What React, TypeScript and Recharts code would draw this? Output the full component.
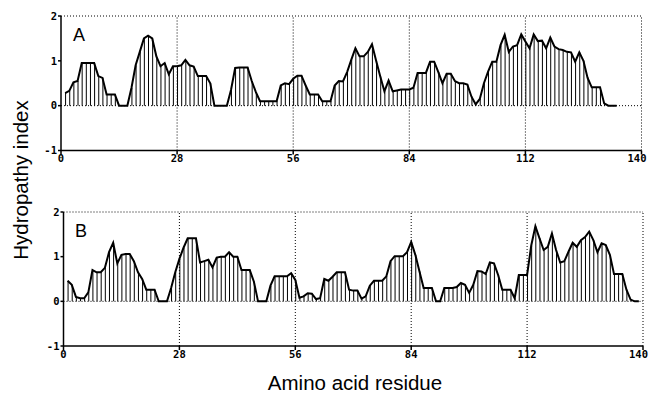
import React from "react";
import { ComposedChart, Bar, Line, XAxis, YAxis, ReferenceLine } from "recharts";

const xTicks = [0, 28, 56, 84, 112, 140];
const yTicks = [-1, 0, 1, 2];
const gridX = [28, 56, 84, 112, 140];
const gridY = [0, 2];

const hydroA = [
  0.28, 0.33, 0.52, 0.55, 0.95, 0.95, 0.95, 0.95, 0.66, 0.62,
  0.25, 0.25, 0.25, 0, 0, 0, 0.4, 0.9, 1.2, 1.5,
  1.56, 1.5, 1.1, 0.88, 0.95, 0.7, 0.88, 0.88, 0.9, 1.02,
  0.9, 0.87, 0.66, 0.66, 0.66, 0.5, 0, 0, 0, 0,
  0.35, 0.84, 0.85, 0.85, 0.85, 0.55, 0.3, 0.1, 0.1, 0.1,
  0.1, 0.1, 0.45, 0.5, 0.48, 0.6, 0.67, 0.67, 0.45, 0.25,
  0.25, 0.25, 0.1, 0.1, 0.1, 0.45, 0.55, 0.54, 0.75, 1.02,
  1.28, 1.1, 1.1, 1.2, 1.37, 1.0, 0.65, 0.32, 0.56, 0.32,
  0.34, 0.36, 0.36, 0.36, 0.4, 0.73, 0.73, 0.73, 0.98, 0.98,
  0.75, 0.5, 0.71, 0.71, 0.55, 0.5, 0.5, 0.47, 0.2, 0.03,
  0.15, 0.5, 0.76, 0.98, 0.98, 1.35, 1.58, 1.2, 1.32, 1.35,
  1.59, 1.43, 1.28, 1.59, 1.44, 1.45, 1.28, 1.52, 1.32, 1.26,
  1.24, 1.2, 1.19, 0.98, 1.19, 1.0, 0.62, 0.41, 0.41, 0.41,
  0.05, 0, 0, 0,
];

const hydroB = [
  0.46, 0.37, 0.1, 0.07, 0.07, 0.2, 0.7, 0.65, 0.65, 0.75,
  1.1, 1.31, 0.85, 1.04, 1.06, 1.06, 0.9, 0.65, 0.5, 0.26,
  0.26, 0.26, 0, 0, 0, 0.3, 0.65, 0.95, 1.2, 1.41,
  1.41, 1.41, 0.87, 0.9, 0.93, 0.76, 0.98, 1.0, 1.0, 1.1,
  1.0, 1.0, 0.7, 0.7, 0.7, 0.44, 0, 0, 0, 0.35,
  0.56, 0.56, 0.56, 0.56, 0.63, 0.48, 0.08, 0.11, 0.18, 0.17,
  0.05, 0.07, 0.5, 0.46, 0.55, 0.65, 0.65, 0.65, 0.26, 0.24,
  0.24, 0.06, 0.11, 0.35, 0.46, 0.46, 0.46, 0.56, 0.9, 1.01,
  1.01, 1.01, 1.1, 1.33, 1.04, 0.67, 0.3, 0.3, 0.3, 0,
  0, 0.3, 0.3, 0.3, 0.32, 0.41, 0.37, 0.19, 0.37, 0.68,
  0.67, 0.61, 0.87, 0.85, 0.59, 0.26, 0.26, 0.26, 0.07, 0.59,
  0.59, 0.59, 1.25, 1.68, 1.41, 1.15, 1.22, 1.52, 1.15, 0.87,
  0.9, 1.11, 1.31, 1.22, 1.37, 1.44, 1.56, 1.37, 1.1, 1.3,
  1.26, 1.04, 0.61, 0.61, 0.61, 0.26, 0.04, 0, 0,
];

const toRows = (vals: number[]) => vals.map((h, i) => ({ residue: i + 1, h }));

const tickFont = {
  fontFamily: "'DejaVu Sans Mono', monospace",
  fontWeight: 700,
  fontSize: 10.5,
  fill: "#000",
};

const XTick = (props: any) => {
  const { x, y, payload } = props;
  const last = payload.value === 140;
  return (
    <text
      x={x}
      y={y}
      dy="0.75em"
      textAnchor={last ? "end" : "middle"}
      dx={last ? 5 : 0}
      {...tickFont}
    >
      {payload.value}
    </text>
  );
};

function Panel({ vals, top, height, margin }: { vals: number[]; top: number; height: number; margin: any }) {
  const data = toRows(vals);
  return (
    <div style={{ position: "absolute", left: 0, top }}>
      <ComposedChart width={649} height={height} data={data} margin={margin}>
        {gridX.map((x) => (
          <ReferenceLine key={"x" + x} x={x} stroke="#000" strokeWidth={1} strokeDasharray="1 2" />
        ))}
        {gridY.map((y) => (
          <ReferenceLine key={"y" + y} y={y} stroke="#000" strokeWidth={1} strokeDasharray="1 2" />
        ))}
        <XAxis
          dataKey="residue"
          type="number"
          domain={[0, 140]}
          ticks={xTicks}
          interval={0}
          allowDataOverflow
          height={20}
          tickSize={4}
          tickMargin={0}
          axisLine={{ stroke: "#000", strokeWidth: 1.5 }}
          tickLine={{ stroke: "#000", strokeWidth: 1.5 }}
          tick={<XTick />}
        />
        <YAxis
          type="number"
          domain={[-1, 2]}
          ticks={yTicks}
          interval={0}
          allowDataOverflow
          width={30}
          tickSize={3}
          tickMargin={1}
          axisLine={{ stroke: "#000", strokeWidth: 1.5 }}
          tickLine={{ stroke: "#000", strokeWidth: 1.5 }}
          tick={tickFont}
        />
        <Bar dataKey="h" fill="#000" barSize={1} isAnimationActive={false} />
        <Line dataKey="h" type="linear" stroke="#000" strokeWidth={2} dot={false} isAnimationActive={false} />
      </ComposedChart>
    </div>
  );
}

const labelStyle: React.CSSProperties = {
  position: "absolute",
  fontFamily: "'Liberation Sans', Arial, sans-serif",
  fontSize: 18,
  color: "#000",
  lineHeight: 1,
};

export default function App() {
  return (
    <div style={{ position: "absolute", left: 0, top: 0, width: 649, height: 393, background: "#fff", overflow: "hidden" }}>
      <Panel vals={hydroA} top={0} height={175} margin={{ top: 16, right: 7.5, left: 31, bottom: 4.5 }} />
      <Panel vals={hydroB} top={190} height={180} margin={{ top: 22, right: 6, left: 33.5, bottom: 4 }} />
      <div style={{ ...labelStyle, left: 73, top: 26 }}>A</div>
      <div style={{ ...labelStyle, left: 75, top: 222 }}>B</div>
      <div
        style={{
          position: "absolute",
          left: 355,
          top: 383,
          transform: "translate(-50%, -50%)",
          fontFamily: "'Liberation Sans', Arial, sans-serif",
          fontSize: 20.5,
          whiteSpace: "nowrap",
          color: "#000",
        }}
      >
        Amino acid residue
      </div>
      <div
        style={{
          position: "absolute",
          left: 21,
          top: 180,
          transform: "translate(-50%, -50%) rotate(-90deg)",
          fontFamily: "'Liberation Sans', Arial, sans-serif",
          fontSize: 20.5,
          whiteSpace: "nowrap",
          color: "#000",
        }}
      >
        Hydropathy index
      </div>
    </div>
  );
}
